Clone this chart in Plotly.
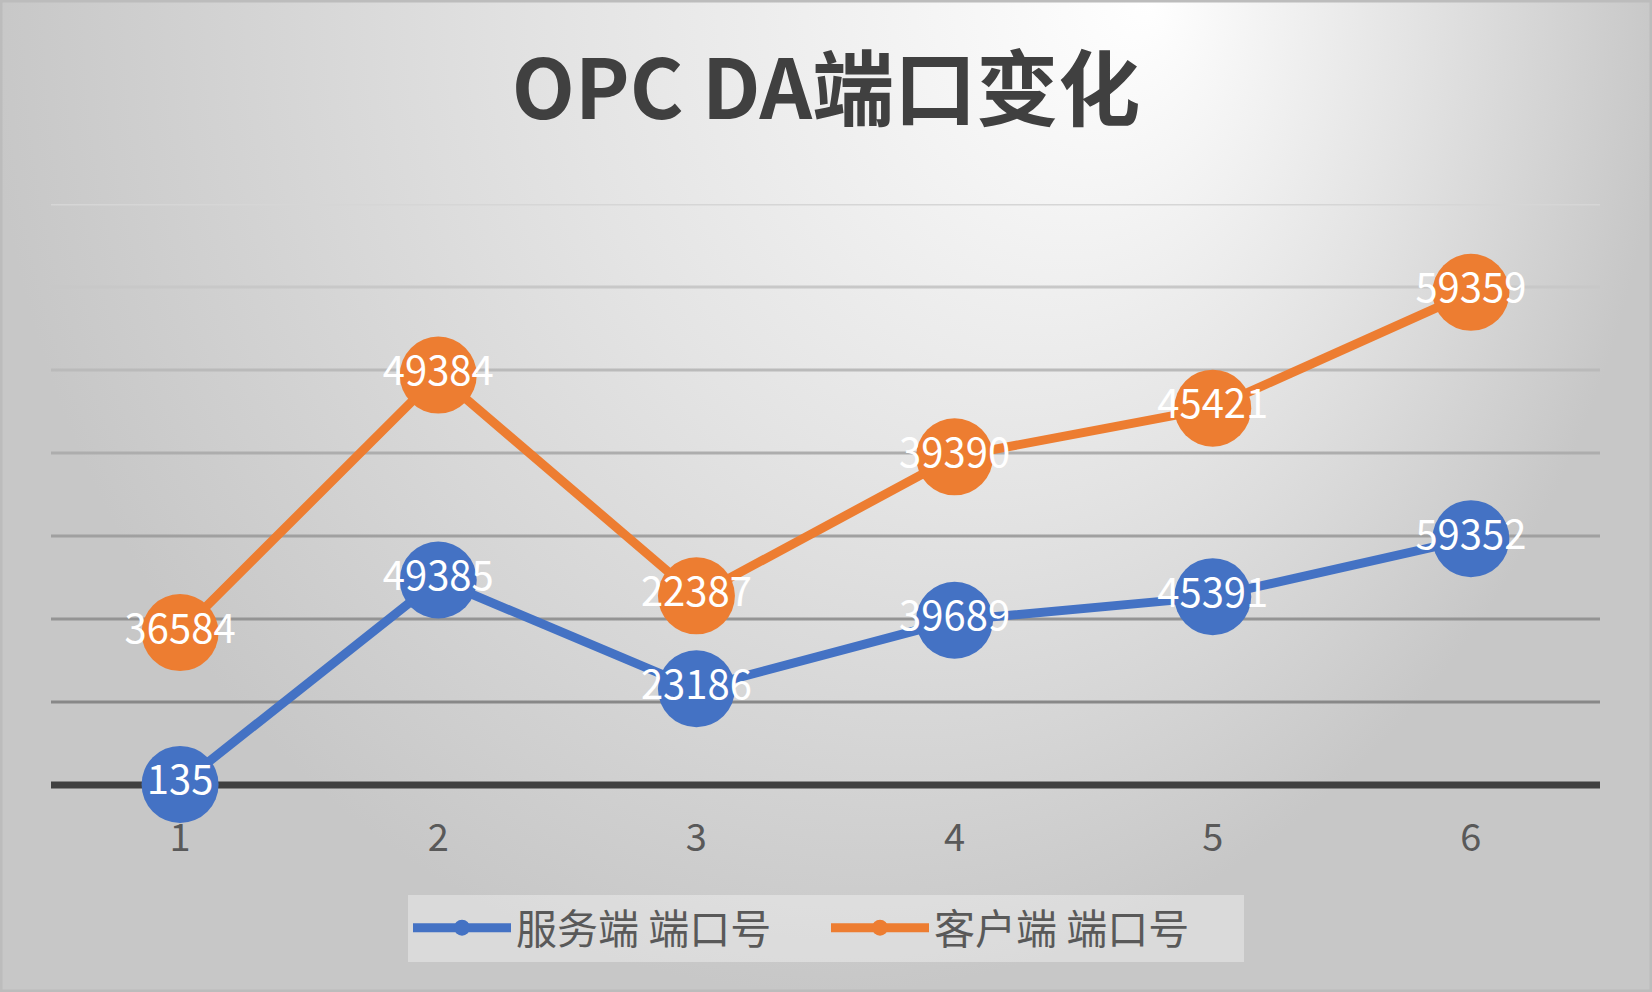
import base64
import plotly.graph_objects as go

# data
categories = [1, 2, 3, 4, 5, 6]
server_ports = [135, 49385, 23186, 39689, 45391, 59352]
client_ports = [36584, 49384, 22387, 39390, 45421, 59359]
series_names = ['服务端 端口号', '客户端 端口号']
title_text = 'OPC DA端口变化'

# gridlines (stacked axis, values are not shown as tick labels)
grid_values = [20000, 40000, 60000, 80000, 100000, 120000, 140000]
grid_colors = ['#888888', '#949494', '#a0a0a0', '#adadad', '#bababa', '#c8c8c8', '#d6d6d6']

BLUE = '#4472C4'
ORANGE = '#ED7D31'
CJK = 'Noto Sans CJK SC'
W, H = 1652, 992

# plot area in pixels (top gridline and zero line of the reference)
top_px, zero_px = 204, 785
y_max = 140000
y_pad = 2500  # a little room below zero so the thick zero line is not clipped
px_per = (zero_px - top_px) / y_max
bottom_px = zero_px + y_pad * px_per

# soft gray gradient background, brightest near the top right of the title
svg = f'''<svg xmlns="http://www.w3.org/2000/svg" width="{W}" height="{H}" preserveAspectRatio="none">
<defs>
<radialGradient id="g" gradientUnits="userSpaceOnUse" cx="826" cy="0" r="840" fx="1150" fy="0"
 gradientTransform="scale(1,{H / 840:.4f})">
<stop offset="0" stop-color="#ffffff"/>
<stop offset="0.5" stop-color="#e4e4e4"/>
<stop offset="1" stop-color="#c7c7c7"/>
</radialGradient>
</defs>
<rect width="{W}" height="{H}" fill="url(#g)"/>
</svg>'''
bg_src = 'data:image/svg+xml;base64,' + base64.b64encode(svg.encode()).decode()

fig = go.Figure()

for name, vals, color in [(series_names[0], server_ports, BLUE),
                          (series_names[1], client_ports, ORANGE)]:
    fig.add_trace(go.Scatter(
        x=categories,
        y=vals,
        name=name,
        stackgroup='one',
        fill='none',
        mode='lines+markers+text',
        line=dict(color=color, width=9),
        marker=dict(color=color, size=77),
        text=[str(v) for v in vals],
        texttemplate='%{text}',
        textposition='middle center',
        textfont=dict(family=CJK, size=40, color='white'),
        cliponaxis=False,
        hoverinfo='x+text+name',
    ))

for v, c in zip(grid_values, grid_colors):
    fig.add_hline(y=v, line_color=c, line_width=3, layer='below')
fig.add_hline(y=0, line_color='#404040', line_width=7, layer='below')

fig.add_shape(
    type='rect', xref='paper', yref='paper',
    x0=0, y0=0, x1=1, y1=1,
    line=dict(color='#bcbcbc', width=5),
    fillcolor='rgba(0,0,0,0)',
)

fig.update_layout(
    width=W,
    height=H,
    margin=dict(l=0, r=0, t=0, b=0),
    paper_bgcolor='#d0d0d0',
    plot_bgcolor='rgba(0,0,0,0)',
    title=dict(
        text=title_text,
        x=0.5,
        xanchor='center',
        y=1 - 90 / H,
        yanchor='middle',
        font=dict(family=CJK, size=82, color='#404040', weight='bold'),
    ),
    xaxis=dict(
        domain=[51 / W, 1600 / W],
        range=[0.5, 6.5],
        tickvals=categories,
        ticktext=[str(c) for c in categories],
        showgrid=False,
        zeroline=False,
        showline=False,
        ticks='',
        ticklabelstandoff=17,
        tickfont=dict(family=CJK, size=38, color='#595959'),
    ),
    yaxis=dict(
        domain=[1 - bottom_px / H, 1 - top_px / H],
        range=[-y_pad, y_max],
        showgrid=False,
        zeroline=False,
        showticklabels=False,
        ticks='',
    ),
    legend=dict(
        orientation='h',
        x=0.5,
        xanchor='center',
        y=1 - 928 / H,
        yanchor='middle',
        bgcolor='rgba(255,255,255,0.35)',
        font=dict(family=CJK, size=41, color='#595959'),
        itemwidth=98,
        entrywidth=305,
    ),
    images=[dict(
        source=bg_src,
        xref='paper', yref='paper',
        x=0, y=1, sizex=1, sizey=1,
        xanchor='left', yanchor='top',
        sizing='stretch',
        layer='below',
    )],
)

fig.write_html(
    'out.html',
    config={'displayModeBar': False},
    post_script="document.body.style.margin='0';document.body.style.overflow='hidden';",
)
